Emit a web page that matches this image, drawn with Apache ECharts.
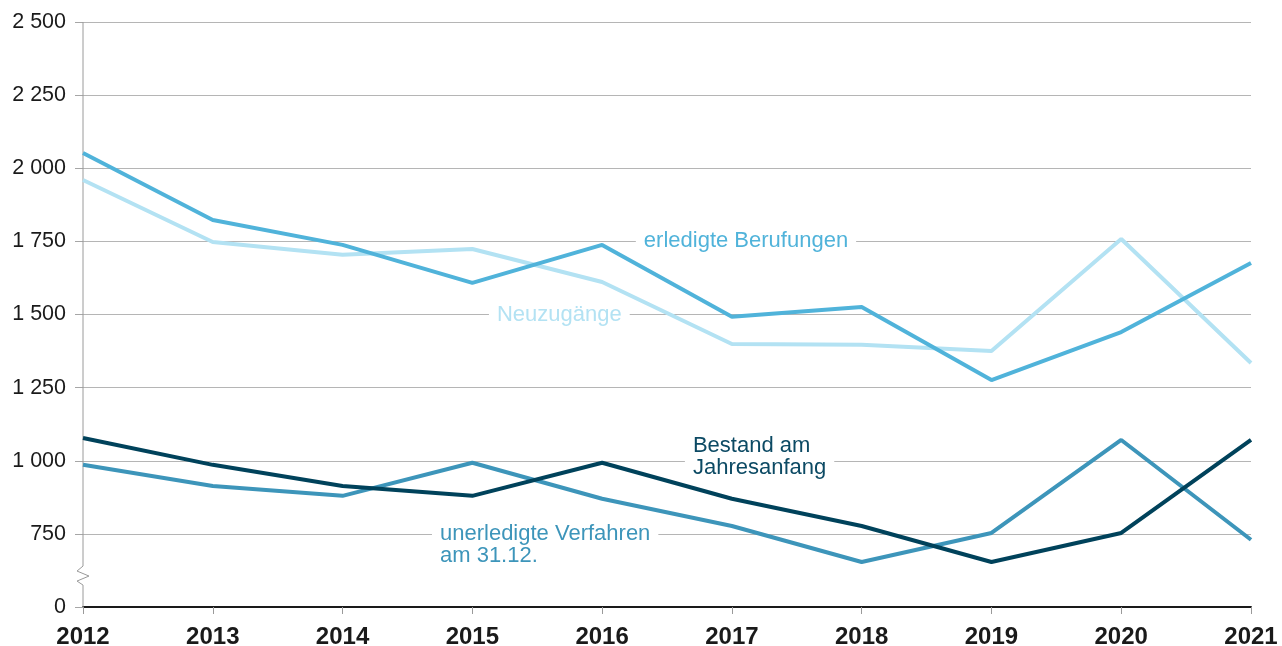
<!DOCTYPE html>
<html><head><meta charset="utf-8">
<script src="https://cdn.jsdelivr.net/npm/echarts@6/dist/echarts.min.js"></script>
<style>html,body{margin:0;padding:0;background:#fff}#c{width:1282px;height:646px}</style>
</head><body><div id="c"></div>
<script>
const years = ['2012','2013','2014','2015','2016','2017','2018','2019','2020','2021'];
const erledigteBerufungen = [2052, 1823, 1738, 1608, 1738, 1492, 1526, 1276, 1440, 1676];
const neuzugaenge = [1960, 1748, 1704, 1724, 1611, 1399, 1397, 1375, 1758, 1334];
const bestandAmJahresanfang = [1078, 986, 914, 880, 993, 870, 777, 654, 753, 1071];
const unerledigteVerfahren = [986, 914, 880, 993, 870, 777, 654, 753, 1071, 730];
const yTicks = [500, 750, 1000, 1250, 1500, 1750, 2000, 2250, 2500]; // 500 position shows "0" (broken axis)

const FONT = '"Liberation Sans", Arial, sans-serif';
const C_ERL = '#50b3da', C_NEU = '#b3e2f3', C_BES = '#00425b', C_UNE = '#3d95ba';

const chart = echarts.init(document.getElementById('c'), null, {renderer: 'canvas'});
function fmt(v){ if (v === 500) return '0'; const s = String(v); return s.length > 3 ? s.slice(0, s.length-3) + ' ' + s.slice(-3) : s; }

const option = {
  animation: false,
  grid: {left: 83, right: 31, top: 22, bottom: 39, containLabel: false, outerBoundsMode: 'none'},
  xAxis: {
    type: 'category', data: years, boundaryGap: false,
    axisLine: {show: true, lineStyle: {color: '#1a1a1a', width: 2}},
    axisTick: {show: true, length: 7, lineStyle: {color: '#9a9a9a', width: 1}},
    axisLabel: {color: '#1a1a1a', fontFamily: FONT, fontWeight: 'bold', fontSize: 24, margin: 18},
    splitLine: {show: false}
  },
  yAxis: {
    type: 'value', min: 500, max: 2500, interval: 250,
    axisLine: {show: false},
    axisTick: {show: true, length: 8, lineStyle: {color: '#a6a6a6', width: 1}},
    axisLabel: {color: '#1a1a1a', fontFamily: FONT, fontSize: 21.5, margin: 17, formatter: fmt},
    splitLine: {show: true, lineStyle: {color: '#b5b5b5', width: 1}}
  },
  series: [
    {name: 'erledigte Berufungen', type: 'line', data: erledigteBerufungen, symbol: 'none', lineStyle: {color: C_ERL, width: 4}, z: 5},
    {name: 'Neuzugänge', type: 'line', data: neuzugaenge, symbol: 'none', lineStyle: {color: C_NEU, width: 4}, z: 4},
    {name: 'Bestand am Jahresanfang', type: 'line', data: bestandAmJahresanfang, symbol: 'none', lineStyle: {color: C_BES, width: 4}, z: 5},
    {name: 'unerledigte Verfahren am 31.12.', type: 'line', data: unerledigteVerfahren, symbol: 'none', lineStyle: {color: C_UNE, width: 4}, z: 4}
  ]
};
chart.setOption(option);

// position helpers derived from the axes
const p0 = chart.convertToPixel({gridIndex: 0}, [0, 500]);
const p1 = chart.convertToPixel({gridIndex: 0}, [1, 2500]);
const step = p1[0] - p0[0];
const X = i => p0[0] + i * step;
const Y = v => chart.convertToPixel({yAxisIndex: 0}, v);
const axX = p0[0];
const yTop = Y(2500), yBot = Y(500), y750 = Y(750);
const zz = y750 + (yBot - y750) * 0.44;
const LF = '22px ' + FONT;

function lbl(text, xi, v, color) {
  return {type: 'text', x: X(xi), y: Y(v), z: 1, silent: true,
    style: {text: text, fill: color, font: LF, align: 'left', verticalAlign: 'middle',
      backgroundColor: '#fff', padding: [0, 8, 0, 8], lineHeight: 22}};
}

chart.setOption({graphic: [
  {type: 'polyline', z: 3, silent: true, shape: {points: [[axX, yTop], [axX, zz]]}, style: {stroke: '#9a9a9a', lineWidth: 1, fill: null}},
  {type: 'polyline', z: 3, silent: true, shape: {points: [[axX, zz], [axX - 6, zz + 5], [axX + 6, zz + 10], [axX - 6, zz + 15], [axX, zz + 19], [axX, yBot]]}, style: {stroke: '#9a9a9a', lineWidth: 1, fill: null}},
  lbl('erledigte Berufungen', 4.26, 1750, C_ERL),
  lbl('Neuzugänge', 3.128, 1500, C_NEU),
  {type: 'text', x: X(4.638), y: Y(1000) - 4, z: 1, silent: true,
    style: {text: 'Bestand am\nJahresanfang', fill: '#0c4a64', font: LF, align: 'left', verticalAlign: 'middle',
      backgroundColor: '#fff', padding: [0, 8, 0, 8], lineHeight: 22}},
  {type: 'text', x: X(2.689), y: Y(750) - 11, z: 1, silent: true,
    style: {text: 'unerledigte Verfahren\nam 31.12.', fill: C_UNE, font: LF, align: 'left', verticalAlign: 'top',
      backgroundColor: '#fff', padding: [0, 8, 0, 8], lineHeight: 22}}
]});
</script></body></html>
